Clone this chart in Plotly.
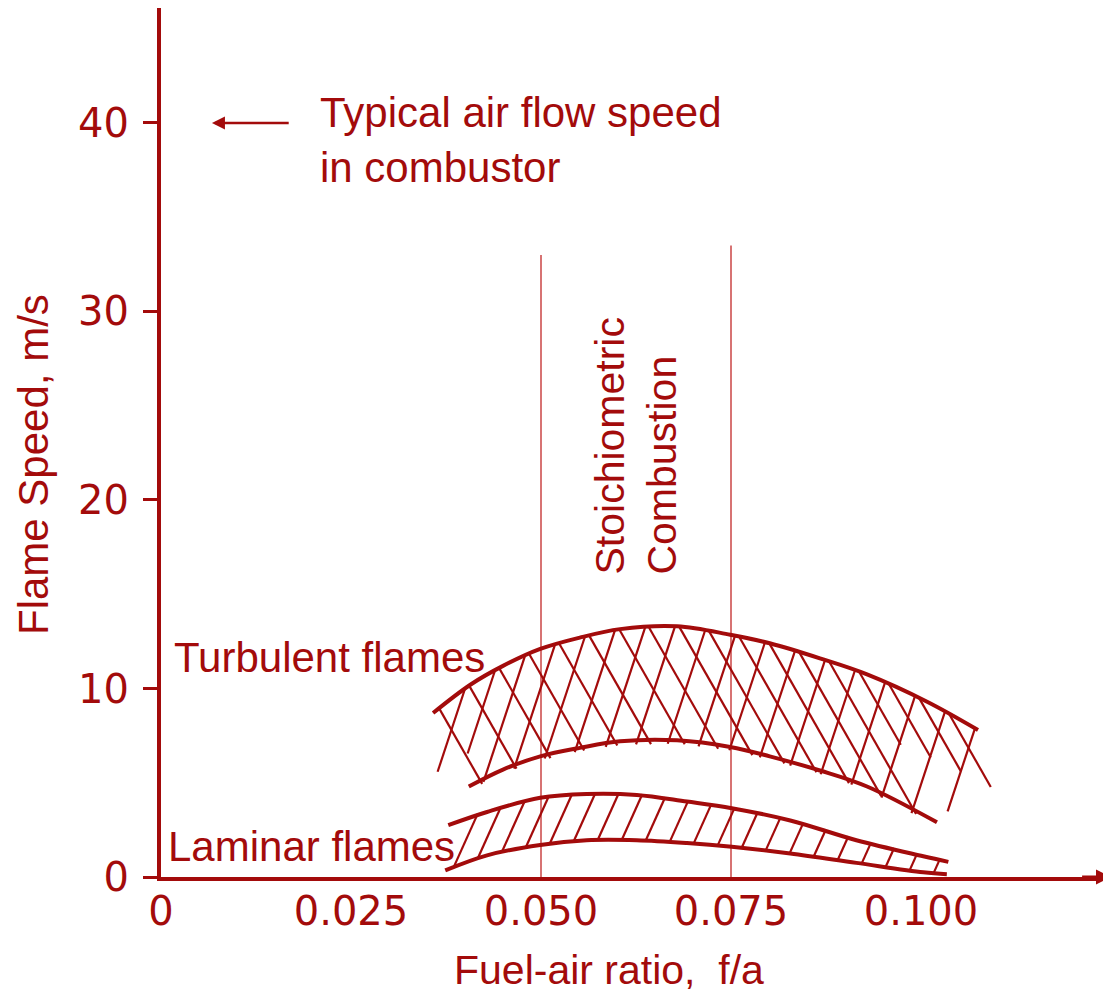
import numpy as np
import plotly.graph_objects as go

RED = "#a30b0b"
LIGHT = "rgba(205,80,80,0.8)"
TXT_FONT = "Liberation Sans, Arial, sans-serif"
TICK_FONT = "DejaVu Sans, sans-serif"

# ---------------- data ----------------
x_ticks = [0, 0.025, 0.050, 0.075, 0.100]
x_ticklabels = ["0", "0.025", "0.050", "0.075", "0.100"]
y_ticks = [0, 10, 20, 30, 40]
y_ticklabels = ["0", "10", "20", "30", "40"]

turb_upper_x = [0.0358, 0.0407, 0.0450, 0.0499, 0.0551, 0.0604, 0.0679, 0.0749, 0.0801, 0.0867, 0.0929, 0.1008, 0.1075]
turb_upper_y = [8.7, 10.2, 11.2, 12.1, 12.7, 13.15, 13.3, 12.85, 12.4, 11.6, 10.75, 9.3, 7.8]
turb_lower_x = [0.0405, 0.0450, 0.0499, 0.0551, 0.0604, 0.0679, 0.0749, 0.0801, 0.0867, 0.0929, 0.1021]
turb_lower_y = [4.8, 5.7, 6.4, 6.85, 7.2, 7.25, 6.9, 6.4, 5.65, 4.8, 2.9]

lam_upper_x = [0.0378, 0.0429, 0.0499, 0.0560, 0.0626, 0.0692, 0.0751, 0.0828, 0.0915, 0.1003, 0.1036]
lam_upper_y = [2.75, 3.45, 4.2, 4.4, 4.35, 4.0, 3.65, 3.0, 1.95, 1.1, 0.8]
lam_lower_x = [0.0374, 0.0429, 0.0499, 0.0560, 0.0626, 0.0692, 0.0751, 0.0828, 0.0915, 0.1003, 0.1034]
lam_lower_y = [0.35, 1.15, 1.7, 1.95, 1.95, 1.8, 1.6, 1.25, 0.75, 0.25, 0.15]

stoich_x = [0.050, 0.075]
stoich_top = [33.0, 33.5]

airflow_speed = 40

# ---------------- layout geometry ----------------
OFF = 8                      # page body margin
W, H = 1103, 986
ML, MR, MT, MB = 153, 0, 0, 117
PLOT_W = W - ML - MR
PLOT_H = H - MT - MB
XMAX = 0.125
YMAX = 46.1
PX = PLOT_W / XMAX      # pixels per x unit
PY = PLOT_H / YMAX      # pixels per y unit


def page_to_paper_x(px):
    return (px - OFF - ML) / PLOT_W


def page_to_paper_y(py):
    return (OFF + MT + PLOT_H - py) / PLOT_H


def lin(xs, ys, x):
    xs = np.asarray(xs, float)
    ys = np.asarray(ys, float)
    if x < xs[0]:
        return ys[0] + (ys[1] - ys[0]) / (xs[1] - xs[0]) * (x - xs[0])
    if x > xs[-1]:
        return ys[-1] + (ys[-1] - ys[-2]) / (xs[-1] - xs[-2]) * (x - xs[-1])
    return float(np.interp(x, xs, ys))


def hatch(src_x, src_y, dst_x, dst_y, starts, kx, direction, max_len, over):
    hx, hy = [], []
    t = np.arange(0, 300, 0.5)
    for xs0 in starts:
        ys0 = lin(src_x, src_y, xs0)
        xl = xs0 + kx * t / PX
        yl = ys0 + direction * t / PY
        dst = np.array([lin(dst_x, dst_y, v) for v in xl])
        diff = (yl - dst) * direction
        if np.any(diff >= 0):
            idx = int(np.argmax(diff >= 0))
            tl = t[idx]
            if not (dst_x[0] <= xl[idx] <= dst_x[-1]):
                tl = min(tl, max_len)
        else:
            tl = max_len
        tl += over
        hx += [xs0, xs0 + kx * tl / PX, None]
        hy += [ys0, ys0 + direction * tl / PY, None]
    return hx, hy


fig = go.Figure()

# stoichiometric guide lines
for sx, st in zip(stoich_x, stoich_top):
    fig.add_trace(go.Scatter(x=[sx, sx], y=[0, st], mode="lines",
                             line=dict(color=LIGHT, width=2), hoverinfo="skip"))

# turbulent cross hatching
h1x, h1y = hatch(turb_upper_x, turb_upper_y, turb_lower_x, turb_lower_y,
                 np.arange(0.0366, 0.1042, 30 / PX), 0.57, -1, 70, 3)
h2x, h2y = hatch(turb_upper_x, turb_upper_y, turb_lower_x, turb_lower_y,
                 np.arange(0.0400, 0.1072, 30 / PX), -0.33, -1, 80, 3)
fig.add_trace(go.Scatter(x=h1x, y=h1y, mode="lines", line=dict(color=RED, width=2.2), hoverinfo="skip"))
fig.add_trace(go.Scatter(x=h2x, y=h2y, mode="lines", line=dict(color=RED, width=2.2), hoverinfo="skip"))

# laminar hatching
h3x, h3y = hatch(lam_lower_x, lam_lower_y, lam_upper_x, lam_upper_y,
                 np.arange(0.0385, 0.1028, 24 / PX), 0.45, 1, 40, 1)
fig.add_trace(go.Scatter(x=h3x, y=h3y, mode="lines", line=dict(color=RED, width=2.2), hoverinfo="skip"))

# boundary curves
for cx, cy in [(turb_upper_x, turb_upper_y), (turb_lower_x, turb_lower_y),
               (lam_upper_x, lam_upper_y), (lam_lower_x, lam_lower_y)]:
    fig.add_trace(go.Scatter(x=cx, y=cy, mode="lines",
                             line=dict(color=RED, width=4, shape="spline", smoothing=1),
                             hoverinfo="skip"))

txt = dict(family=TXT_FONT, size=42, color=RED)
annotations = [
    # y-axis title
    dict(text="Flame Speed, m/s", xref="paper", yref="paper",
         x=page_to_paper_x(33), y=page_to_paper_y(465), textangle=-90, showarrow=False,
         xanchor="center", yanchor="middle", font=dict(family=TXT_FONT, size=42, color=RED)),
    # x-axis title
    dict(text="Fuel-air ratio,  f/a", xref="paper", yref="paper",
         x=page_to_paper_x(609), y=page_to_paper_y(970), showarrow=False,
         xanchor="center", yanchor="middle", font=dict(family=TXT_FONT, size=41, color=RED)),
    # air flow note
    dict(text="Typical air flow speed<br>in combustor", x=0.0207, y=39.1,
         xref="x", yref="y", showarrow=False, xanchor="left", yanchor="middle",
         align="left", font=txt),
    dict(text="", x=0.0067, y=airflow_speed, ax=0.0170, ay=airflow_speed,
         xref="x", yref="y", axref="x", ayref="y", showarrow=True,
         arrowhead=2, arrowsize=1, arrowwidth=2.6, arrowcolor=RED, standoff=0),
    # x-axis arrow
    dict(text="", x=XMAX, y=0, ax=XMAX - 0.004, ay=0,
         xref="x", yref="y", axref="x", ayref="y", showarrow=True,
         arrowhead=2, arrowsize=1, arrowwidth=3, arrowcolor=RED, standoff=0),
    # stoichiometric text
    dict(text="Stoichiometric", x=0.05895, y=(877 - 577) / PY, textangle=-90,
         xref="x", yref="y", showarrow=False, xanchor="center", yanchor="bottom",
         font=dict(family=TXT_FONT, size=41, color=RED)),
    dict(text="Combustion", x=0.0658, y=(877 - 577) / PY, textangle=-90,
         xref="x", yref="y", showarrow=False, xanchor="center", yanchor="bottom",
         font=dict(family=TXT_FONT, size=41, color=RED)),
    # band labels
    dict(text="Turbulent flames", x=0.0014, y=11.67, xref="x", yref="y",
         showarrow=False, xanchor="left", yanchor="middle", font=txt),
    dict(text="Laminar flames", x=0.0006, y=1.64, xref="x", yref="y",
         showarrow=False, xanchor="left", yanchor="middle", font=txt),
]

fig.update_layout(
    width=W, height=H,
    margin=dict(l=ML, r=MR, t=MT, b=MB, pad=0),
    paper_bgcolor="white", plot_bgcolor="white",
    showlegend=False,
    annotations=annotations,
    xaxis=dict(range=[0, XMAX], showgrid=False, zeroline=False,
               showline=True, linewidth=4, linecolor=RED,
               tickmode="array", tickvals=x_ticks, ticktext=x_ticklabels,
               ticks="", ticklabelstandoff=-4,
               tickfont=dict(family=TICK_FONT, size=40, color=RED)),
    yaxis=dict(range=[0, YMAX], showgrid=False, zeroline=False,
               showline=True, linewidth=4, linecolor=RED,
               tickmode="array", tickvals=y_ticks, ticktext=y_ticklabels,
               ticks="outside", ticklen=14, tickwidth=2.5, tickcolor=RED,
               ticklabelstandoff=6,
               tickfont=dict(family=TICK_FONT, size=40, color=RED)),
)

fig.write_html("out.html")
